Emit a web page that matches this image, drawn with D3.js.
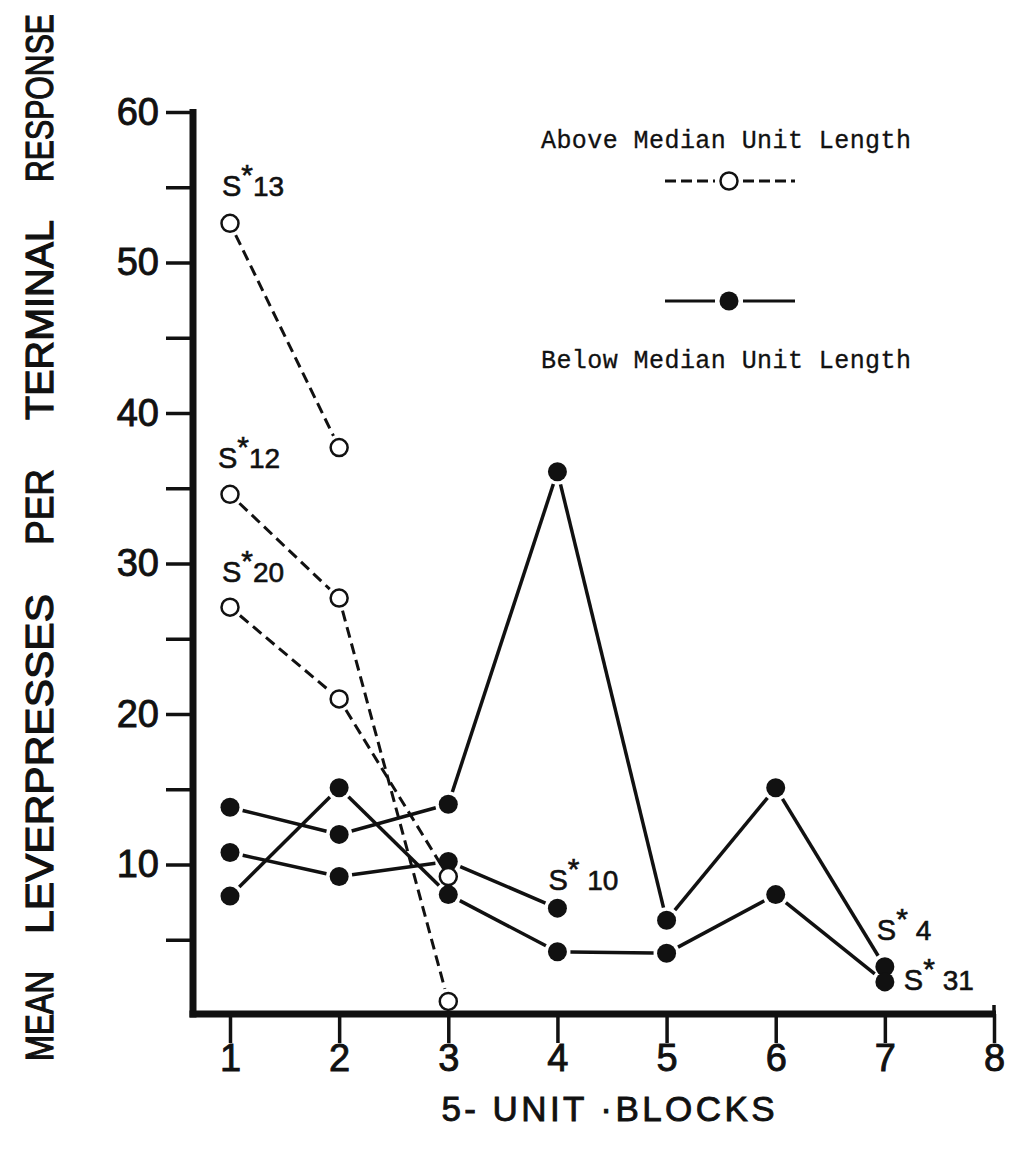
<!DOCTYPE html>
<html>
<head>
<meta charset="utf-8">
<script src="https://cdn.jsdelivr.net/npm/d3@7"></script>
<style>
  body { margin: 0; background: #fff; }
  svg { display: block; }
</style>
</head>
<body>
<svg id="chart" width="1013" height="1163"></svg>
<script>
// ---- data -------------------------------------------------------------
const blocks = [1, 2, 3, 4, 5, 6, 7, 8];
const yTickValues = [5, 10, 15, 20, 25, 30, 35, 40, 45, 50, 55, 60];
const yLabelValues = [10, 20, 30, 40, 50, 60];

// subjects above the median unit length (dashed line, open circles)
const aboveIds = ["13", "12", "20"];
const aboveS13 = [52.6, 37.7];
const aboveS12 = [34.6, 27.7, 0.9];
const aboveS20 = [27.1, 21.0, 9.2];

// subjects below the median unit length (solid line, filled circles)
const belowIds = ["4", "10", "31"];
const belowS4 = [13.8, 12.0, 14.0, 36.1, 6.3, 15.1, 3.2];
const belowS10 = [10.8, 9.2, 10.2, 7.1];
const belowS31 = [7.9, 15.1, 8.0, 4.2, 4.1, 8.0, 2.2];

const legendLabels = ["Above Median Unit Length", "Below Median Unit Length"];
const xTitle = "5- UNIT \u00B7BLOCKS";
const yTitleWords = ["MEAN", "LEVERPRESSES", "PER", "TERMINAL", "RESPONSE"];

// ---- layout -----------------------------------------------------------
const svg = d3.select("#chart");
const ink = "#111";
const sans = "'Liberation Sans', Arial, Helvetica, sans-serif";
const mono = "'Liberation Mono', 'Courier New', monospace";

const x = d3.scaleLinear().domain([1, 8]).range([230, 994]);
const y = d3.scaleLinear().domain([0, 60]).range([1015, 112]);
const axisX = 193, axisY = 1014;

// series with the point that carries the subject label and its offset
const series = [
  { id: aboveIds[0], values: aboveS13, open: true,  at: 0, dx: -8,  dy: -27, sp: "" },
  { id: aboveIds[1], values: aboveS12, open: true,  at: 0, dx: -12, dy: -26, sp: "" },
  { id: aboveIds[2], values: aboveS20, open: true,  at: 0, dx: -8,  dy: -25, sp: "" },
  { id: belowIds[0], values: belowS4,  open: false, at: 6, dx: -8,  dy: -27, sp: " " },
  { id: belowIds[1], values: belowS10, open: false, at: 3, dx: -9,  dy: -18, sp: " " },
  { id: belowIds[2], values: belowS31, open: false, at: 6, dx: 19,  dy: 8,   sp: " " }
];

// ---- axes -------------------------------------------------------------
const yAxis = d3.axisLeft(y)
  .tickValues(yTickValues)
  .tickSize(27)
  .tickPadding(7)
  .tickFormat(d => yLabelValues.includes(d) ? d : "");
const gy = svg.append("g").attr("transform", `translate(${axisX},0)`).call(yAxis);
gy.select(".domain").remove();
gy.selectAll(".tick line").attr("stroke", ink).attr("stroke-width", 3.5);
gy.selectAll(".tick text")
  .attr("fill", ink).attr("font-family", sans).attr("font-size", 38)
  .attr("stroke", ink).attr("stroke-width", 0.9);

const xAxis = d3.axisBottom(x).tickValues(blocks).tickSize(29).tickPadding(1).tickFormat(d3.format("d"));
const gx = svg.append("g").attr("transform", `translate(0,${axisY})`).call(xAxis);
gx.select(".domain").remove();
gx.selectAll(".tick line").attr("stroke", ink).attr("stroke-width", 3.5);
gx.selectAll(".tick text")
  .attr("fill", ink).attr("font-family", sans).attr("font-size", 38)
  .attr("stroke", ink).attr("stroke-width", 0.9);

// heavy axis frame
svg.append("line")
  .attr("x1", axisX).attr("x2", axisX).attr("y1", y(60) - 3).attr("y2", axisY + 3.5)
  .attr("stroke", ink).attr("stroke-width", 7);
svg.append("line")
  .attr("x1", axisX - 3.5).attr("x2", x(8) + 2).attr("y1", axisY).attr("y2", axisY)
  .attr("stroke", ink).attr("stroke-width", 7);
// the last block tick rises a little above the frame
svg.append("line")
  .attr("x1", x(8)).attr("x2", x(8)).attr("y1", axisY - 9).attr("y2", axisY)
  .attr("stroke", ink).attr("stroke-width", 3.5);

// ---- axis titles ------------------------------------------------------
svg.append("text")
  .attr("x", 608).attr("y", 1121)
  .attr("text-anchor", "middle")
  .attr("font-family", sans).attr("font-size", 35)
  .attr("textLength", 333).attr("lengthAdjust", "spacing")
  .attr("fill", ink).attr("stroke", ink).attr("stroke-width", 0.9)
  .text(xTitle);

// vertical title: hand-set lettering, one word per span along the axis
// (centre and overall length of each word); each word is scaled to its span
const yWordCentres = [1016, 764, 507, 320, 98];
const yWordLengths = [90, 340, 76, 200, 168];
svg.append("g").selectAll("text")
  .data(yTitleWords)
  .join("text")
  .attr("text-anchor", "middle")
  .attr("font-family", sans).attr("font-size", 38)
  .attr("fill", ink).attr("stroke", ink).attr("stroke-width", 1.2)
  .text(d => d)
  .attr("transform", function (d, i) {
    const k = yWordLengths[i] / this.getComputedTextLength();
    return `translate(53,${yWordCentres[i]}) rotate(-90) scale(${k},1)`;
  });

// ---- lines ------------------------------------------------------------
// each link is drawn between two points, trimmed so it stops short of the markers
const gap = 13;
function links(values) {
  const pts = values.map((v, i) => [x(blocks[i]), y(v)]);
  return d3.pairs(pts).map(([a, b]) => {
    const dx = b[0] - a[0], dy = b[1] - a[1];
    const len = Math.hypot(dx, dy);
    const ux = dx / len, uy = dy / len;
    return [[a[0] + ux * gap, a[1] + uy * gap], [b[0] - ux * gap, b[1] - uy * gap]];
  });
}

const lineGen = d3.line();
const solid = series.filter(s => !s.open);
const dashed = series.filter(s => s.open);

svg.append("g").selectAll("path")
  .data(solid.flatMap(s => links(s.values)))
  .join("path")
  .attr("d", lineGen)
  .attr("fill", "none").attr("stroke", ink).attr("stroke-width", 3.5);

svg.append("g").selectAll("path")
  .data(dashed.flatMap(s => links(s.values)))
  .join("path")
  .attr("d", lineGen)
  .attr("fill", "none").attr("stroke", ink).attr("stroke-width", 3)
  .attr("stroke-dasharray", "11 6");

// ---- markers ----------------------------------------------------------
svg.append("g").selectAll("circle")
  .data(solid.flatMap(s => s.values.map((v, i) => [blocks[i], v])))
  .join("circle")
  .attr("cx", d => x(d[0])).attr("cy", d => y(d[1])).attr("r", 9.5)
  .attr("fill", ink);

svg.append("g").selectAll("circle")
  .data(dashed.flatMap(s => s.values.map((v, i) => [blocks[i], v])))
  .join("circle")
  .attr("cx", d => x(d[0])).attr("cy", d => y(d[1])).attr("r", 8.5)
  .attr("fill", "#fff").attr("stroke", ink).attr("stroke-width", 2.5);

// ---- subject labels ---------------------------------------------------
const lab = svg.append("g").selectAll("text")
  .data(series)
  .join("text")
  .attr("x", s => x(blocks[s.at]) + s.dx)
  .attr("y", s => y(s.values[s.at]) + s.dy)
  .attr("font-family", sans).attr("fill", ink)
  .attr("stroke", ink).attr("stroke-width", 0.6);
lab.append("tspan").attr("font-size", 29).text("S");
lab.append("tspan").attr("font-size", 30).attr("dy", -11).attr("dx", 0).text("*");
lab.append("tspan").attr("font-size", 28).attr("dy", 11).attr("dx", 0)
  .style("white-space", "pre").text(s => s.sp + s.id);

// ---- legend -----------------------------------------------------------
const legendX = 729;
const legend = [
  { label: legendLabels[0], textY: 148, markY: 181, open: true },
  { label: legendLabels[1], textY: 368, markY: 301, open: false }
];
const lg = svg.append("g").selectAll("g").data(legend).join("g");
lg.append("text")
  .attr("x", 541).attr("y", d => d.textY)
  .attr("font-family", mono).attr("font-size", 25)
  .attr("textLength", 370).attr("lengthAdjust", "spacing")
  .attr("fill", ink).attr("stroke", ink).attr("stroke-width", 0.3)
  .text(d => d.label);
lg.each(function (d) {
  const g = d3.select(this);
  [[665, legendX - 14], [legendX + 14, 795]].forEach(([a, b]) => {
    g.append("line")
      .attr("x1", a).attr("x2", b).attr("y1", d.markY).attr("y2", d.markY)
      .attr("stroke", ink).attr("stroke-width", 3)
      .attr("stroke-dasharray", d.open ? "11 5" : null);
  });
  g.append("circle")
    .attr("cx", legendX).attr("cy", d.markY).attr("r", d.open ? 8.5 : 9.5)
    .attr("fill", d.open ? "#fff" : ink)
    .attr("stroke", ink).attr("stroke-width", d.open ? 2.5 : 0);
});
</script>
</body>
</html>
